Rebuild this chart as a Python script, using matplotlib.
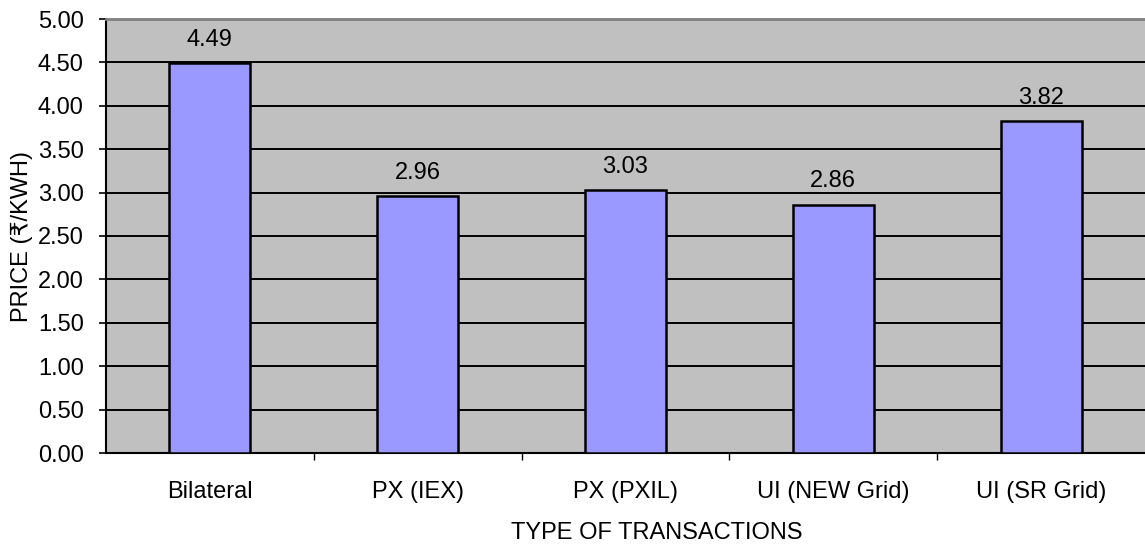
import matplotlib
matplotlib.use("Agg")
import matplotlib.pyplot as plt
from matplotlib.ticker import MultipleLocator, FixedLocator

# data
categories = ["Bilateral", "PX (IEX)", "PX (PXIL)", "UI (NEW Grid)", "UI (SR Grid)"]
prices = [4.49, 2.96, 3.03, 2.86, 3.82]

plt.rcParams['font.family'] = ['Liberation Sans', 'DejaVu Sans']
FS = 17

fig = plt.figure(figsize=(11.45, 5.48), dpi=100)
W, H = 1145, 548
ax = fig.add_axes([106 / W, (H - 453) / H, (W - 106) / W, (453 - 19) / H])

ax.set_facecolor('#c0c0c0')
x = list(range(len(categories)))
ax.bar(x, prices, width=0.39, color='#9999ff', edgecolor='black', linewidth=1.8, zorder=3)

for xi, v in zip(x, prices):
    ax.annotate(f"{v:.2f}", (xi, v), xytext=(0, 12.5), textcoords='offset points',
                ha='center', va='baseline', fontsize=FS, color='black')

ax.set_xlim(-0.5, len(categories) - 0.5)
ax.set_ylim(0, 5)
ax.yaxis.set_major_locator(MultipleLocator(0.5))
ax.set_yticklabels([f"{t:.2f}" for t in ax.get_yticks()])
ax.yaxis.grid(True, color='black', linewidth=1.4, zorder=0)
ax.set_axisbelow(True)

ax.set_xticks(x)
ax.set_xticklabels(categories)
ax.xaxis.set_minor_locator(FixedLocator([i + 0.5 for i in x[:-1]]))
ax.tick_params(axis='x', which='major', length=0, pad=20, labelsize=FS)
ax.tick_params(axis='x', which='minor', length=5, width=1, color='black')
ax.tick_params(axis='y', length=5, width=1.2, pad=11, labelsize=FS)

ax.spines['left'].set_linewidth(1.5)
ax.spines['bottom'].set_linewidth(1.5)
ax.spines['top'].set_color('#808080')
ax.spines['top'].set_linewidth(2)
ax.spines['right'].set_visible(False)

ax.set_ylabel("PRICE (₹/KWH)", fontsize=FS)
ax.set_xlabel("TYPE OF TRANSACTIONS", fontsize=FS)
ax.xaxis.set_label_coords((657 - 106) / (W - 106), -(522 - 453) / (453 - 19))
ax.yaxis.set_label_coords(-(106 - 33) / (W - 106), 0.5)

fig.savefig("out.png", dpi=100)
